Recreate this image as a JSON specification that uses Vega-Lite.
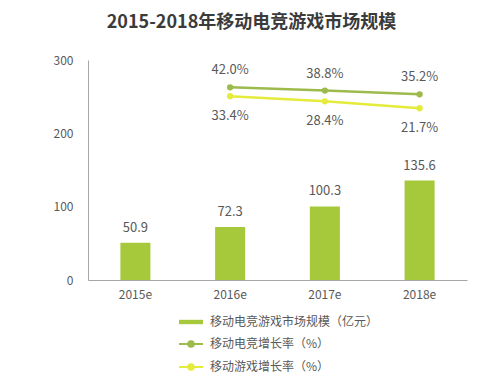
{
  "$schema": "https://vega.github.io/schema/vega-lite/v6.json",
  "width": 379,
  "height": 220,
  "autosize": "none",
  "padding": {"left": 88, "top": 60, "right": 33, "bottom": 101},
  "background": "white",
  "title": {
    "text": "2015-2018年移动电竞游戏市场规模",
    "font": "Noto Sans CJK SC",
    "fontSize": 18,
    "fontWeight": "bold",
    "color": "#3b3b3b",
    "anchor": "middle",
    "frame": "group",
    "dx": -26,
    "offset": 22
  },
  "config": {
    "view": {"stroke": null},
    "font": "Noto Sans CJK SC",
    "axis": {
      "labelFont": "Noto Sans CJK SC",
      "labelFontSize": 12,
      "labelColor": "#595959",
      "domainColor": "#a6a6a6",
      "domainWidth": 1,
      "ticks": false,
      "grid": false,
      "title": null
    }
  },
  "data": {
    "values": [
      {"year": "2015e", "scale": 50.9},
      {"year": "2016e", "scale": 72.3, "esports": 0.42, "games": 0.334},
      {"year": "2017e", "scale": 100.3, "esports": 0.388, "games": 0.284},
      {"year": "2018e", "scale": 135.6, "esports": 0.352, "games": 0.217}
    ]
  },
  "encoding": {
    "x": {
      "field": "year",
      "type": "nominal",
      "sort": null,
      "scale": {"paddingInner": 0.683, "paddingOuter": 0.342},
      "axis": {"labelAngle": 0, "labelPadding": 9}
    }
  },
  "layer": [
    {
      "encoding": {
        "y": {
          "field": "scale",
          "type": "quantitative",
          "scale": {"domain": [0, 300]},
          "axis": {"values": [0, 100, 200, 300], "labelPadding": 15}
        }
      },
      "layer": [
        {
          "mark": {"type": "bar"},
          "encoding": {
            "color": {
              "datum": "移动电竞游戏市场规模（亿元）",
              "scale": {
                "domain": ["移动电竞游戏市场规模（亿元）", "移动电竞增长率（%）", "移动游戏增长率（%）"],
                "range": ["#a6c83b", "#9dba4c", "#e4eb3a"]
              },
              "legend": {
                "orient": "none",
                "legendX": 97,
                "legendY": 256,
                "title": null,
                "direction": "vertical",
                "labelFont": "Noto Sans CJK SC",
                "labelFontSize": 12,
                "labelColor": "#595959",
                "labelLimit": 0,
                "symbolSize": 400,
                "rowPadding": 9,
                "labelOffset": 13,
                "padding": 0,
                "symbolType": "circle",
                "encode": {
                  "symbols": {
                    "update": {
                      "shape": {"signal": "datum.value === '移动电竞游戏市场规模（亿元）' ? 'M-1.2,-0.22H1.2V0.22H-1.2Z' : 'M-1.2,0H1.2M0.28,0A0.28,0.28,0,1,1,-0.28,0A0.28,0.28,0,1,1,0.28,0'"},
                      "fill": {"scale": "color", "field": "value"},
                      "stroke": {"scale": "color", "field": "value"},
                      "strokeWidth": {"signal": "datum.value === '移动电竞游戏市场规模（亿元）' ? 0 : 2"},
                      "opacity": {"value": 1},
                      "fillOpacity": {"value": 1}
                    }
                  }
                }
              }
            }
          }
        },
        {
          "mark": {"type": "text", "dy": -15, "fontSize": 13, "color": "#595959", "font": "Noto Sans CJK SC"},
          "encoding": {
            "text": {"field": "scale", "type": "quantitative", "format": ".1f"}
          }
        }
      ]
    },
    {
      "encoding": {
        "y": {
          "type": "quantitative",
          "scale": {"domain": [-1.45, 0.685]},
          "axis": null
        }
      },
      "layer": [
        {
          "mark": {"type": "line", "strokeWidth": 2.5, "point": {"filled": true, "size": 40}},
          "encoding": {
            "y": {"field": "esports", "type": "quantitative"},
            "color": {"datum": "移动电竞增长率（%）"}
          }
        },
        {
          "mark": {"type": "text", "dy": -17, "fontSize": 13, "color": "#595959", "font": "Noto Sans CJK SC"},
          "encoding": {
            "y": {"field": "esports", "type": "quantitative"},
            "text": {"field": "esports", "type": "quantitative", "format": ".1%"}
          }
        },
        {
          "mark": {"type": "line", "strokeWidth": 2.5, "point": {"filled": true, "size": 40}},
          "encoding": {
            "y": {"field": "games", "type": "quantitative"},
            "color": {"datum": "移动游戏增长率（%）"}
          }
        },
        {
          "mark": {"type": "text", "dy": 20, "fontSize": 13, "color": "#595959", "font": "Noto Sans CJK SC"},
          "encoding": {
            "y": {"field": "games", "type": "quantitative"},
            "text": {"field": "games", "type": "quantitative", "format": ".1%"}
          }
        }
      ]
    }
  ],
  "resolve": {"scale": {"y": "independent"}}
}
